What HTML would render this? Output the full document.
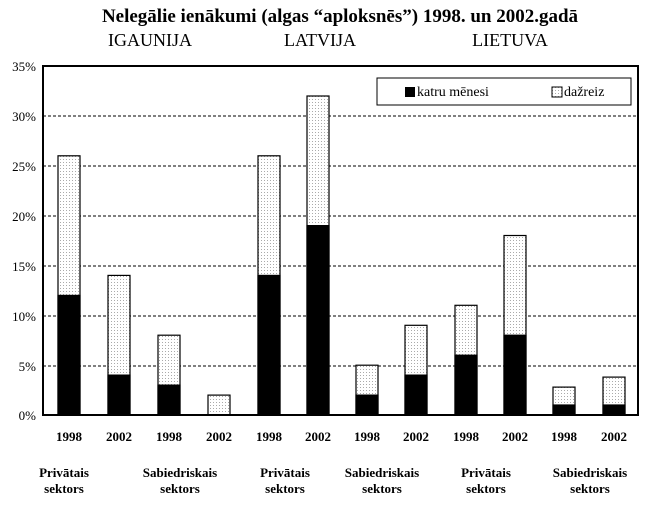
<!DOCTYPE html>
<html><head><style>body{margin:0;background:#fff}</style></head><body>
<svg width="650" height="506" xmlns="http://www.w3.org/2000/svg" font-family="Liberation Serif, serif">
<defs><pattern id="d" width="3" height="3" patternUnits="userSpaceOnUse"><rect width="3" height="3" fill="#fff"/><rect width="1" height="1" fill="#aaa"/></pattern></defs>
<text x="340" y="22" font-size="19" font-weight="bold" text-anchor="middle">Nelegālie ienākumi (algas “aploksnēs”) 1998. un 2002.gadā</text>
<text x="150" y="46" font-size="18" text-anchor="middle">IGAUNIJA</text>
<text x="320" y="46" font-size="18" text-anchor="middle">LATVIJA</text>
<text x="510" y="46" font-size="18" text-anchor="middle">LIETUVA</text>
<g stroke="#000" stroke-width="1" stroke-dasharray="3,2">
<line x1="43" x2="638" y1="116" y2="116"/><line x1="43" x2="638" y1="166" y2="166"/><line x1="43" x2="638" y1="216" y2="216"/><line x1="43" x2="638" y1="266" y2="266"/><line x1="43" x2="638" y1="316" y2="316"/><line x1="43" x2="638" y1="366" y2="366"/>
</g>
<g font-size="13" text-anchor="end">
<text x="36" y="71">35%</text><text x="36" y="121">30%</text><text x="36" y="171">25%</text><text x="36" y="221">20%</text><text x="36" y="271">15%</text><text x="36" y="321">10%</text><text x="36" y="371">5%</text><text x="36" y="420">0%</text>
</g>
<g stroke="#000" stroke-width="1.2">
<rect x="58" y="155.8" width="22" height="259.2" fill="url(#d)"/><rect x="58" y="295.4" width="22" height="119.6" fill="#000"/>
<rect x="108" y="275.4" width="22" height="139.6" fill="url(#d)"/><rect x="108" y="375.1" width="22" height="39.9" fill="#000"/>
<rect x="158" y="335.2" width="22" height="79.8" fill="url(#d)"/><rect x="158" y="385.1" width="22" height="29.9" fill="#000"/>
<rect x="208" y="395.1" width="22" height="19.9" fill="url(#d)"/>
<rect x="258" y="155.8" width="22" height="259.2" fill="url(#d)"/><rect x="258" y="275.4" width="22" height="139.6" fill="#000"/>
<rect x="307" y="96" width="22" height="319" fill="url(#d)"/><rect x="307" y="225.6" width="22" height="189.4" fill="#000"/>
<rect x="356" y="365.2" width="22" height="49.8" fill="url(#d)"/><rect x="356" y="395.1" width="22" height="19.9" fill="#000"/>
<rect x="405" y="325.3" width="22" height="89.7" fill="url(#d)"/><rect x="405" y="375.1" width="22" height="39.9" fill="#000"/>
<rect x="455" y="305.3" width="22" height="109.7" fill="url(#d)"/><rect x="455" y="355.2" width="22" height="59.8" fill="#000"/>
<rect x="504" y="235.5" width="22" height="179.5" fill="url(#d)"/><rect x="504" y="335.2" width="22" height="79.8" fill="#000"/>
<rect x="553" y="387.1" width="22" height="27.9" fill="url(#d)"/><rect x="553" y="405" width="22" height="10" fill="#000"/>
<rect x="603" y="377.1" width="22" height="37.9" fill="url(#d)"/><rect x="603" y="405" width="22" height="10" fill="#000"/>
</g>
<rect x="43" y="66" width="595" height="349" fill="none" stroke="#000" stroke-width="2"/>
<rect x="377" y="78" width="254" height="27" fill="#fff" stroke="#000"/>
<rect x="405" y="87" width="10" height="10" fill="#000"/><text x="417" y="96" font-size="14">katru mēnesi</text>
<rect x="552" y="87" width="10" height="10" fill="url(#d)" stroke="#000"/><text x="564" y="96" font-size="14">dažreiz</text>
<g font-size="13" font-weight="bold" text-anchor="middle">
<text x="69" y="441">1998</text><text x="119" y="441">2002</text><text x="169" y="441">1998</text><text x="219" y="441">2002</text><text x="269" y="441">1998</text><text x="318" y="441">2002</text><text x="367" y="441">1998</text><text x="416" y="441">2002</text><text x="466" y="441">1998</text><text x="515" y="441">2002</text><text x="564" y="441">1998</text><text x="614" y="441">2002</text>
</g>
<g font-size="13" font-weight="bold" text-anchor="middle">
<text x="64" y="477">Privātais</text><text x="64" y="493">sektors</text>
<text x="180" y="477">Sabiedriskais</text><text x="180" y="493">sektors</text>
<text x="285" y="477">Privātais</text><text x="285" y="493">sektors</text>
<text x="382" y="477">Sabiedriskais</text><text x="382" y="493">sektors</text>
<text x="486" y="477">Privātais</text><text x="486" y="493">sektors</text>
<text x="590" y="477">Sabiedriskais</text><text x="590" y="493">sektors</text>
</g>
</svg>
</body></html>
